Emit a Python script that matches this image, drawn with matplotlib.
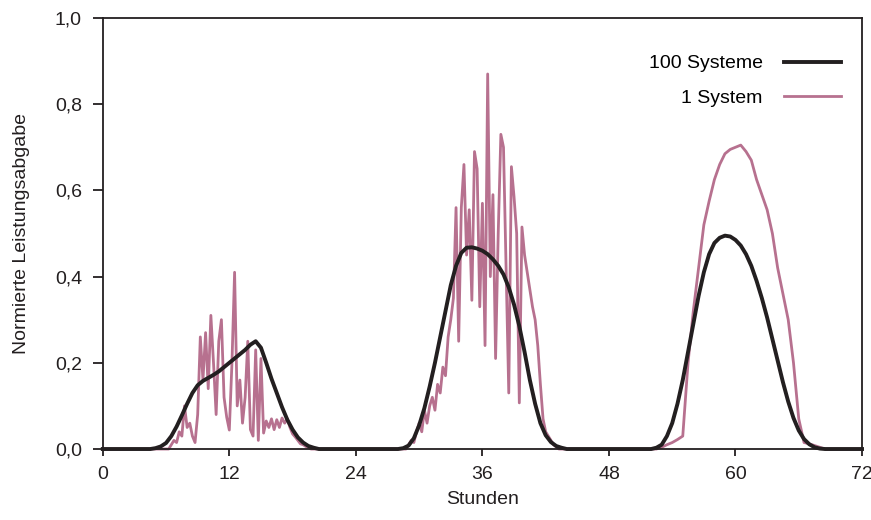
import matplotlib.pyplot as plt
import numpy as np
from matplotlib.ticker import FuncFormatter

plt.rcParams['font.family'] = ['Liberation Sans', 'DejaVu Sans']

## Data

# 100 Systeme: smooth curve, 0.5 h steps, one list per day
many_start = [4.5, 28.0, 52.0]
many_step = 0.5
many_day1 = [0.0, 0.002, 0.006, 0.014, 0.03, 0.052, 0.078, 0.105, 0.13, 0.148,
             0.158, 0.165, 0.172, 0.18, 0.19, 0.2, 0.21, 0.22, 0.23, 0.242,
             0.25, 0.235, 0.2, 0.163, 0.13, 0.097, 0.068, 0.045, 0.027, 0.015,
             0.007, 0.003, 0.0]
many_day2 = [0.0, 0.002, 0.008, 0.025, 0.055, 0.095, 0.145, 0.2, 0.26, 0.32,
             0.38, 0.425, 0.455, 0.467, 0.468, 0.465, 0.46, 0.452, 0.44, 0.425,
             0.405, 0.375, 0.335, 0.285, 0.225, 0.16, 0.105, 0.06, 0.032, 0.016,
             0.007, 0.003, 0.0]
many_day3 = [0.0, 0.003, 0.01, 0.03, 0.06, 0.105, 0.16, 0.225, 0.29, 0.355,
             0.41, 0.452, 0.478, 0.49, 0.495, 0.493, 0.485, 0.472, 0.452, 0.425,
             0.39, 0.35, 0.305, 0.255, 0.205, 0.155, 0.11, 0.072, 0.043, 0.023,
             0.011, 0.004, 0.001, 0.0]

# 1 System: noisy curve, 0.25 h steps (days 1, 2), 0.5 h steps (day 3)
one_start = [6.25, 28.75, 52.5]
one_step = [0.25, 0.25, 0.5]
one_day1 = [0.0, 0.01, 0.02, 0.015, 0.04, 0.03, 0.1, 0.05, 0.06, 0.03,
            0.015, 0.08, 0.26, 0.16, 0.27, 0.14, 0.31, 0.2, 0.08, 0.25,
            0.3, 0.12, 0.074, 0.044, 0.2, 0.41, 0.1, 0.16, 0.06, 0.12,
            0.25, 0.045, 0.03, 0.23, 0.02, 0.21, 0.037, 0.065, 0.05, 0.07,
            0.045, 0.068, 0.05, 0.072, 0.06, 0.07, 0.05, 0.035, 0.028, 0.02,
            0.012, 0.01, 0.006, 0.003, 0.0]
one_day2 = [0.0, 0.01, 0.02, 0.015, 0.04, 0.06, 0.04, 0.09, 0.06, 0.1,
            0.12, 0.09, 0.15, 0.13, 0.19, 0.17, 0.26, 0.3, 0.35, 0.56,
            0.25, 0.56, 0.66, 0.45, 0.555, 0.345, 0.69, 0.65, 0.33, 0.57,
            0.24, 0.87, 0.4, 0.59, 0.21, 0.5, 0.73, 0.7, 0.41, 0.13,
            0.655, 0.585, 0.5, 0.107, 0.515, 0.45, 0.41, 0.37, 0.33, 0.3,
            0.24, 0.15, 0.07, 0.04, 0.03, 0.02, 0.01, 0.005, 0.0]
one_day3 = [0.0, 0.004, 0.01, 0.015, 0.022, 0.03, 0.2, 0.32, 0.42, 0.52,
            0.575, 0.625, 0.66, 0.685, 0.695, 0.7, 0.705, 0.69, 0.67, 0.625,
            0.59, 0.555, 0.5, 0.42, 0.36, 0.3, 0.2, 0.07, 0.015, 0.012,
            0.008, 0.004, 0.0]

x_ticks = [0, 12, 24, 36, 48, 60, 72]
y_ticks = [0.0, 0.2, 0.4, 0.6, 0.8, 1.0]

## Figure Formatting
pink = "#b7718f"
dark = "#231f20"
font_size = 14


def build(starts, steps, days):
    xs, ys = [np.array([0.0])], [np.array([0.0])]
    for start, step, vals in zip(starts, steps, days):
        xs.append(start + step * np.arange(len(vals)))
        ys.append(np.array(vals))
    xs.append(np.array([72.0]))
    ys.append(np.array([0.0]))
    return np.concatenate(xs), np.concatenate(ys)


many_x, many_y = build(many_start, [many_step] * 3, [many_day1, many_day2, many_day3])
one_x, one_y = build(one_start, one_step, [one_day1, one_day2, one_day3])

fig = plt.figure(figsize=(8.71, 5.2), dpi=100)
ax = fig.add_axes([0.118, 0.1365, 0.8717, 0.829])

ax.plot(one_x, one_y, color=pink, lw=2.0, label="1 System", clip_on=False, zorder=2)
ax.plot(many_x, many_y, color=dark, lw=2.8, label="100 Systeme", clip_on=False, zorder=3)

ax.set_xlim(0, 72)
ax.set_ylim(0, 1.0)
ax.set_xticks(x_ticks)
ax.set_yticks(y_ticks)
ax.yaxis.set_major_formatter(FuncFormatter(lambda v, p: "{:.1f}".format(v).replace(".", ",")))
ax.tick_params(direction="out", width=1.3, colors=dark, labelsize=font_size)
ax.tick_params(axis="y", length=7, pad=8)
ax.tick_params(axis="x", length=5, pad=7)
for s in ax.spines.values():
    s.set_linewidth(1.3)
    s.set_color(dark)

ax.set_xlabel("Stunden", fontsize=font_size, color=dark, labelpad=6)
ax.set_ylabel("Normierte Leistungsabgabe", fontsize=font_size, color=dark, labelpad=18)

handles, labels = ax.get_legend_handles_labels()
ax.legend(handles[::-1], labels[::-1], loc="upper right", bbox_to_anchor=(0.996, 0.955),
          frameon=False, markerfirst=False, fontsize=font_size, handlelength=2.95,
          labelspacing=0.85, handletextpad=1.1)

fig.savefig("out.png", dpi=100)
